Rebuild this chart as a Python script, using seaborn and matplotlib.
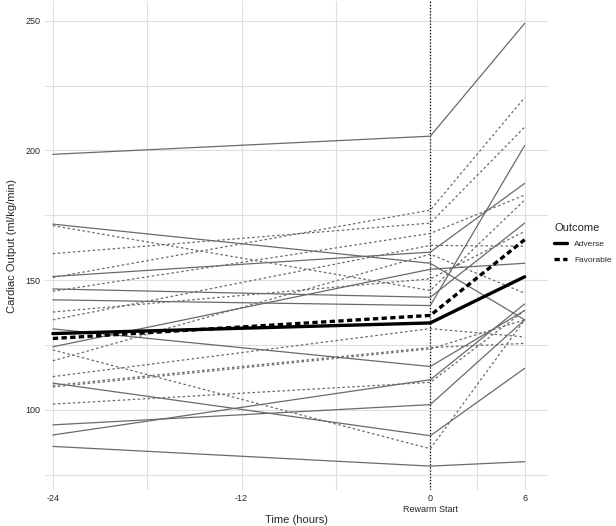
import pandas as pd
import matplotlib.pyplot as plt
import seaborn as sns

times = [-24, 0, 6]

# individual patients, Adverse outcome (value at -24 h, at rewarm start, at +6 h)
adverse_pre = [198.5, 171.6, 151.4, 146.6, 142.4, 131.2, 124.3, 110.3, 94.2, 90.3, 85.9]
adverse_rewarm = [205.5, 156.5, 160.8, 143.4, 140.2, 116.7, 154.2, 90.0, 102.0, 111.6, 78.3]
adverse_post = [249.0, 134.7, 187.3, 172.0, 201.9, 138.3, 156.5, 116.0, 134.7, 140.8, 80.0]

# individual patients, Favorable outcome
favorable_pre = [171.0, 160.2, 151.0, 145.7, 137.7, 134.7, 123.1, 118.9, 112.8, 109.4, 108.8, 102.2]
favorable_rewarm = [146.0, 172.0, 177.0, 168.0, 150.5, 163.4, 85.0, 160.0, 131.3, 124.0, 123.5, 110.6]
favorable_post = [180.9, 209.0, 220.4, 182.8, 168.8, 163.1, 134.7, 145.0, 128.1, 125.6, 134.7, 138.3]

# group means
adverse_mean = [129.4, 133.5, 151.3]
favorable_mean = [127.5, 136.4, 165.6]

rows = []
for group, cols in (("Adverse", (adverse_pre, adverse_rewarm, adverse_post)),
                    ("Favorable", (favorable_pre, favorable_rewarm, favorable_post))):
    for i, vals in enumerate(zip(*cols)):
        for t, v in zip(times, vals):
            rows.append({"id": f"{group}{i}", "time": t, "co": v, "Outcome": group})
df = pd.DataFrame(rows)

means = pd.DataFrame({
    "time": times + times,
    "co": adverse_mean + favorable_mean,
    "Outcome": ["Adverse"] * 3 + ["Favorable"] * 3,
})

sns.set_theme(style="white")
plt.rcParams['font.family'] = ['Liberation Sans', 'DejaVu Sans']

fig = plt.figure(figsize=(6.16, 5.26), dpi=100)
ax = fig.add_axes([0.073, 0.068, 0.817, 0.93])

sns.lineplot(data=df, x="time", y="co", units="id", estimator=None,
             style="Outcome", dashes={"Adverse": "", "Favorable": (2, 2)},
             color="#6a6a6a", linewidth=0.9, legend=False, ax=ax)
sns.lineplot(data=means, x="time", y="co", style="Outcome", errorbar=None,
             dashes={"Adverse": "", "Favorable": (1.6, 1)},
             color="black", linewidth=2.4, ax=ax)

ax.axvline(0, color="black", linestyle=(0, (1, 1.5)), linewidth=0.9, zorder=1)

ax.set_xlim(-24.5, 7.5)
ax.set_ylim(69, 257.6)
ax.set_xticks([-24, -12, 0, 6])
ax.set_xticklabels(["-24", "-12", "0\nRewarm Start", "6"])
ax.set_xticks([-18, -6, 3], minor=True)
ax.set_yticks([100, 150, 200, 250])
ax.set_yticks([75, 125, 175, 225], minor=True)
ax.grid(which="both", color="#dedede", linewidth=0.8, zorder=0)
ax.set_axisbelow(True)
ax.tick_params(which="both", length=0, labelsize=6.5, pad=3)
for s in ax.spines.values():
    s.set_visible(False)

ax.set_xlabel("Time (hours)", fontsize=8, labelpad=1)
ax.set_ylabel("Cardiac Output (ml/kg/min)", fontsize=8, labelpad=6)

handles, labels = ax.get_legend_handles_labels()
leg = ax.legend(handles, labels, title="Outcome", loc="center left",
                bbox_to_anchor=(1.0, 0.505), frameon=False, fontsize=6,
                title_fontsize=8, handlelength=1.5, handletextpad=0.9,
                labelspacing=0.9, borderaxespad=0.3)
leg._legend_box.align = "left"

plt.savefig("out.png", dpi=100)
plt.close()
